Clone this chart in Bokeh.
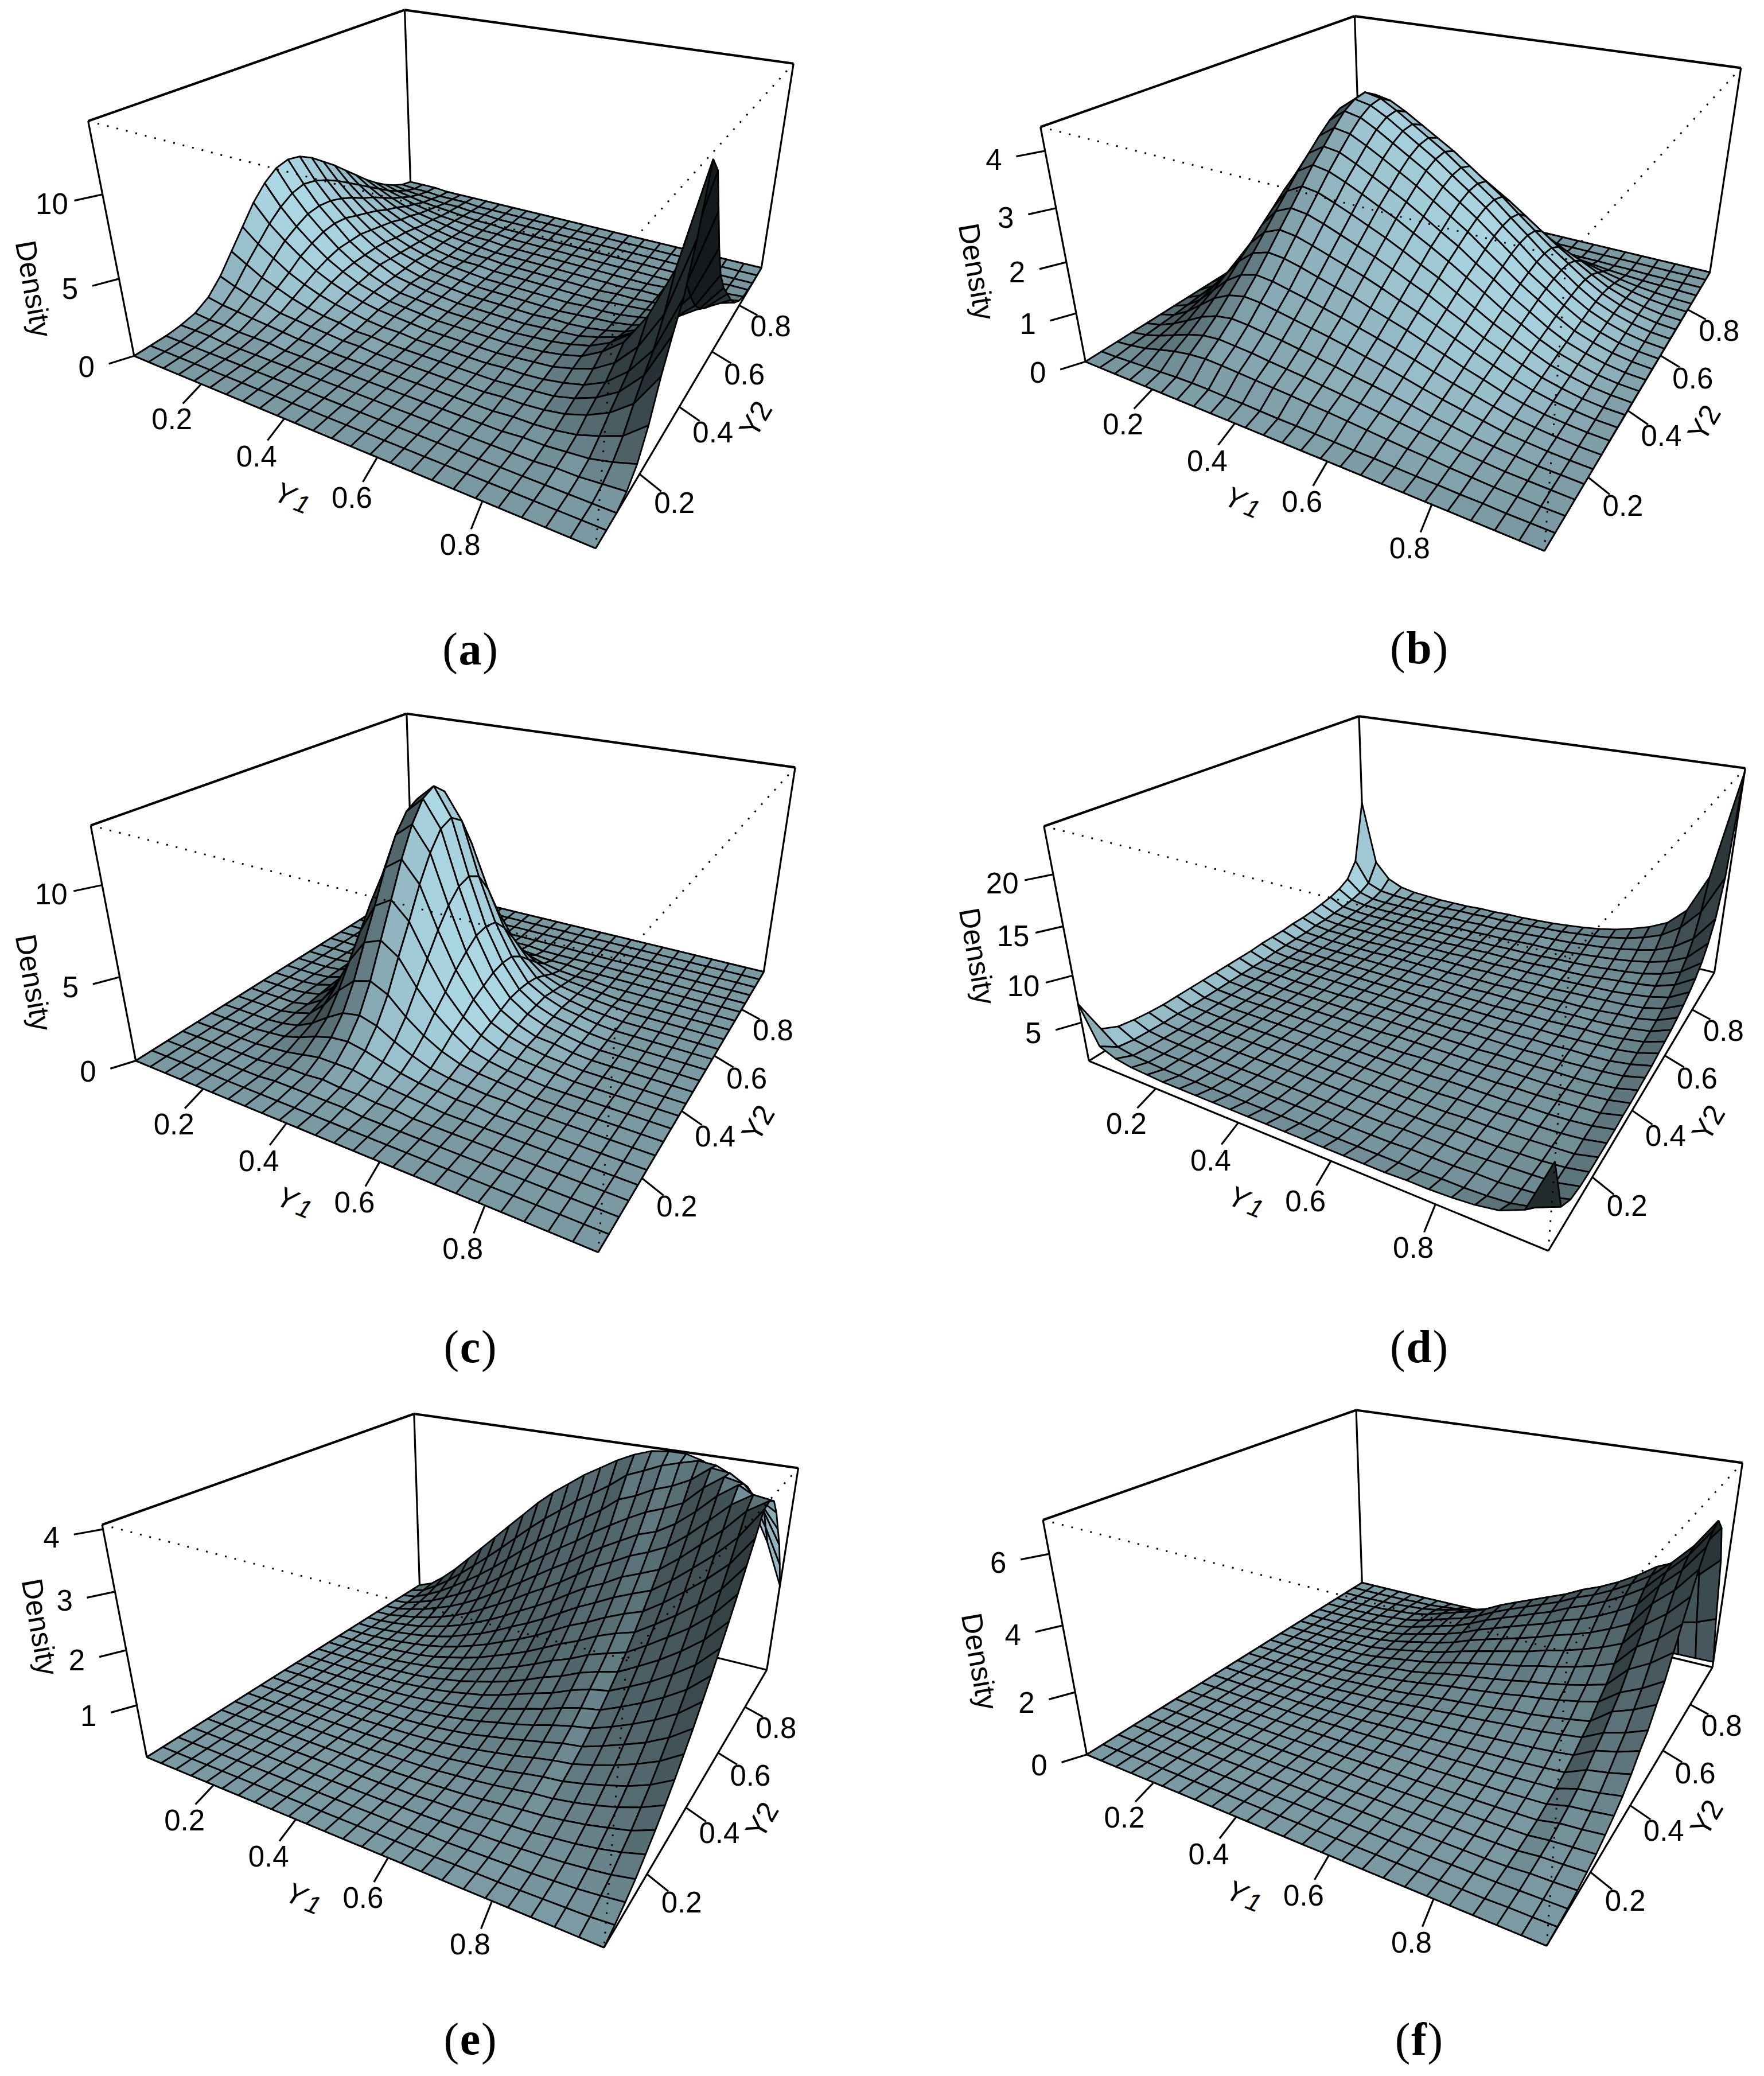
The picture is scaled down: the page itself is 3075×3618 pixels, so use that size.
import numpy as np
from bokeh.plotting import figure
from bokeh.layouts import column, row
from bokeh.models import Range1d
from bokeh.core.properties import value
from bokeh.embed import file_html
from bokeh.resources import INLINE

# ---------- values: rows are Y2, columns are Y1 ----------
Y_LO, Y_HI = 0.02, 0.99
Y_TICKS = [0.2, 0.4, 0.6, 0.8]
CAPTIONS = ["a", "b", "c", "d", "e", "f"]
Z_TICKS = [[0, 5, 10], [0, 1, 2, 3, 4], [0, 5, 10], [5, 10, 15, 20], [1, 2, 3, 4], [0, 2, 4, 6]]
Z_LIMS = [(0, 14), (0, 4.4), (0, 13), (0.7, 24.4), (0, 4.07), (0, 6.9)]
Z_DIV = [10, 100, 10, 10, 100, 100]

Z_A = [
[0,0,0,0,0,0,0,0,0,0,0,0,0,0,0,0,0,0,0,0,0,0,0,0,0],
[0,0,0,0,0,0,0,0,0,0,0,0,0,0,0,0,0,0,0,0,0,0,0,0,0],
[0,0,0,0,0,0,0,0,0,0,0,0,0,0,0,0,0,0,0,0,0,0,0,0,0],
[1,1,1,0,0,0,0,0,0,0,0,0,0,0,0,0,0,0,0,0,0,1,1,2,3],
[3,2,2,1,1,1,0,0,0,0,0,0,0,0,0,0,0,0,0,1,1,2,3,6,10],
[8,6,5,4,3,2,1,1,0,0,0,0,0,0,0,0,0,0,1,1,2,4,8,13,24],
[17,13,10,8,5,4,3,2,1,1,0,0,0,0,0,0,0,1,1,2,4,8,14,24,44],
[29,23,17,13,9,6,4,3,1,1,0,0,0,0,0,0,0,1,2,3,6,11,19,33,60],
[41,32,25,18,13,9,6,4,2,1,1,0,0,0,0,0,1,1,2,4,7,13,24,41,74],
[53,41,32,24,17,12,8,5,3,2,1,0,0,0,0,0,1,2,3,6,10,18,32,55,100],
[62,48,37,28,20,14,9,6,3,2,1,0,0,0,0,0,1,2,4,7,14,24,44,75,136],
[68,53,41,31,22,15,10,6,3,2,1,0,0,0,0,0,1,2,4,7,13,23,40,69,126],
[70,55,42,32,22,15,11,6,4,2,1,0,0,0,0,0,1,2,3,6,10,18,32,55,100],
[68,53,41,31,22,15,10,6,3,2,1,0,0,0,0,0,1,1,2,4,7,13,24,41,74],
[63,49,38,28,20,14,9,6,3,2,1,0,0,0,0,0,0,1,2,3,5,9,17,29,52],
[56,44,34,25,18,12,8,5,3,2,1,0,0,0,0,0,0,1,1,2,4,7,12,21,38],
[49,38,29,22,16,11,7,4,2,1,1,0,0,0,0,0,0,0,1,2,3,5,9,15,28],
[41,32,25,18,13,9,6,4,2,1,1,0,0,0,0,0,0,0,1,1,2,3,6,10,18],
[33,26,20,15,11,7,5,3,2,1,0,0,0,0,0,0,0,0,0,1,1,2,3,6,10],
[25,20,15,11,8,6,4,2,1,1,0,0,0,0,0,0,0,0,0,0,1,1,2,3,5],
[18,14,11,8,6,4,3,2,1,1,0,0,0,0,0,0,0,0,0,0,0,0,1,1,2],
[12,9,7,5,4,3,2,1,1,0,0,0,0,0,0,0,0,0,0,0,0,0,0,1,1],
[7,5,4,3,2,2,1,1,0,0,0,0,0,0,0,0,0,0,0,0,0,0,0,0,0],
[3,2,2,1,1,1,0,0,0,0,0,0,0,0,0,0,0,0,0,0,0,0,0,0,0],
[1,1,1,0,0,0,0,0,0,0,0,0,0,0,0,0,0,0,0,0,0,0,0,0,0],
]

Z_B = [
[0,0,0,0,0,0,0,0,0,0,0,0,0,0,0,0,0,0,0,0,0,0,0,0,0],
[0,1,3,5,7,9,10,10,9,9,8,7,7,6,5,4,4,3,2,2,1,1,0,0,0],
[0,4,10,19,28,34,37,36,34,32,30,28,25,23,20,17,14,11,9,6,4,2,1,0,0],
[0,6,16,29,42,52,56,54,52,48,45,42,38,34,30,26,21,17,13,9,6,3,2,1,0],
[0,8,22,40,59,72,78,76,72,68,63,58,53,47,42,36,30,23,18,12,8,5,2,1,0],
[0,10,29,54,79,96,104,102,96,90,84,78,71,63,56,48,39,31,24,17,10,6,3,1,0],
[0,13,36,67,98,120,130,127,120,113,105,97,88,79,70,60,49,39,30,21,13,8,4,1,0],
[0,16,45,83,121,148,159,156,148,138,129,120,108,97,86,73,61,48,37,25,16,9,5,2,1],
[0,19,53,98,143,175,189,185,175,164,153,142,129,115,102,87,72,57,43,30,19,11,6,2,1],
[0,22,61,113,166,203,218,214,203,190,177,164,149,133,118,100,83,65,50,35,22,13,6,2,1],
[0,25,70,129,188,230,248,243,230,216,201,186,169,151,134,114,94,74,57,40,25,15,7,3,1],
[0,28,78,144,211,258,278,272,258,242,225,209,189,170,150,128,106,83,64,44,28,17,8,3,1],
[0,30,85,157,230,282,303,298,282,264,246,228,207,185,164,139,116,91,70,48,30,18,9,3,1],
[0,33,93,171,250,306,329,323,306,287,267,247,224,201,178,151,125,99,76,53,33,20,10,4,1],
[0,35,99,182,267,327,352,345,327,306,285,264,239,215,190,162,134,105,81,56,35,21,10,4,1],
[0,37,103,190,278,341,366,359,341,319,297,275,249,224,198,168,140,110,84,58,37,22,11,4,1],
[0,37,104,192,281,344,370,363,344,322,300,278,252,226,200,170,141,111,85,59,37,22,11,4,1],
[0,36,100,184,270,330,355,348,330,309,288,267,242,217,192,163,135,107,82,57,36,21,11,4,1],
[0,31,87,161,236,289,311,305,289,270,252,234,212,190,168,143,118,93,71,50,31,18,9,3,1],
[0,23,66,121,177,217,233,229,217,203,189,175,159,142,126,107,89,70,54,37,23,14,7,3,1],
[0,14,38,71,104,127,137,134,127,119,111,103,93,84,74,63,52,41,31,22,14,8,4,1,0],
[0,5,15,27,39,48,52,51,48,45,42,39,35,32,28,24,20,16,12,8,5,3,2,1,0],
[0,1,2,4,6,7,7,7,7,6,6,6,5,5,4,3,3,2,2,1,1,0,0,0,0],
[0,0,0,0,0,0,0,0,0,0,0,0,0,0,0,0,0,0,0,0,0,0,0,0,0],
[0,0,0,0,0,0,0,0,0,0,0,0,0,0,0,0,0,0,0,0,0,0,0,0,0],
]

Z_C = [
[0,0,0,0,0,0,0,0,0,0,0,0,0,0,0,0,0,0,0,0,0,0,0,0,0],
[0,0,0,0,0,0,0,0,0,0,0,0,0,0,0,0,0,0,0,0,0,0,0,0,0],
[0,0,0,0,0,0,0,1,1,1,1,1,0,0,0,0,0,0,0,0,0,0,0,0,0],
[0,0,0,0,0,0,1,2,2,3,2,2,1,1,0,0,0,0,0,0,0,0,0,0,0],
[0,0,0,0,0,1,2,4,6,6,6,4,3,2,1,0,0,0,0,0,0,0,0,0,0],
[0,0,0,0,1,2,5,9,12,13,11,8,5,3,2,1,1,0,0,0,0,0,0,0,0],
[0,0,0,0,1,3,8,15,21,23,20,14,9,5,3,2,1,1,0,0,0,0,0,0,0],
[0,0,0,0,2,5,14,26,35,38,33,23,15,9,5,3,2,1,0,0,0,0,0,0,0],
[0,0,0,0,2,8,20,39,53,57,50,35,23,14,7,4,2,1,0,0,0,0,0,0,0],
[0,0,0,1,3,11,27,52,70,76,66,47,30,18,10,5,3,2,1,0,0,0,0,0,0],
[0,0,0,1,4,14,34,65,88,95,83,59,38,23,12,7,4,2,1,0,0,0,0,0,0],
[0,0,0,1,4,16,40,76,103,111,97,69,44,26,14,8,4,3,1,0,0,0,0,0,0],
[0,0,0,1,5,17,44,83,113,122,107,76,49,29,16,9,5,3,1,0,0,0,0,0,0],
[0,0,0,1,5,18,45,86,117,126,110,78,50,30,16,9,5,3,1,0,0,0,0,0,0],
[0,0,0,1,5,17,43,82,111,120,105,74,48,29,15,9,5,3,1,0,0,0,0,0,0],
[0,0,0,1,4,14,36,69,94,101,88,62,40,24,13,7,4,2,1,0,0,0,0,0,0],
[0,0,0,1,3,10,26,50,68,73,64,45,29,17,9,5,3,2,1,0,0,0,0,0,0],
[0,0,0,0,2,6,15,28,39,42,36,26,17,10,5,3,2,1,0,0,0,0,0,0,0],
[0,0,0,0,1,3,6,12,16,18,15,11,7,4,2,1,1,0,0,0,0,0,0,0,0],
[0,0,0,0,0,1,2,3,5,5,4,3,2,1,1,0,0,0,0,0,0,0,0,0,0],
[0,0,0,0,0,0,0,1,1,1,1,1,0,0,0,0,0,0,0,0,0,0,0,0,0],
[0,0,0,0,0,0,0,0,0,0,0,0,0,0,0,0,0,0,0,0,0,0,0,0,0],
[0,0,0,0,0,0,0,0,0,0,0,0,0,0,0,0,0,0,0,0,0,0,0,0,0],
[0,0,0,0,0,0,0,0,0,0,0,0,0,0,0,0,0,0,0,0,0,0,0,0,0],
[0,0,0,0,0,0,0,0,0,0,0,0,0,0,0,0,0,0,0,0,0,0,0,0,0],
]

Z_D = [
[70,30,23,20,19,18,18,18,18,18,18,18,18,18,18,18,18,18,19,19,20,22,26,36,88],
[32,18,15,14,13,13,13,13,13,13,13,13,13,13,13,13,13,13,13,14,14,15,17,22,32],
[24,15,13,12,12,12,11,11,11,11,11,11,11,11,11,11,11,12,12,12,13,13,15,17,23],
[21,14,12,11,11,10,10,10,10,10,10,10,10,10,10,10,11,11,11,11,12,13,14,15,20],
[19,13,11,11,10,10,10,10,10,10,10,10,10,10,10,10,10,10,11,11,11,12,13,15,19],
[18,13,11,10,10,10,10,10,10,10,10,10,10,10,10,10,10,10,11,11,11,12,13,14,19],
[18,12,11,10,10,10,10,10,10,10,10,10,10,10,10,10,10,11,11,11,12,12,13,15,19],
[18,12,11,10,10,10,10,10,10,10,10,10,10,10,10,10,11,11,11,11,12,12,13,15,19],
[18,12,11,10,10,10,10,10,10,10,10,10,10,10,11,11,11,11,11,12,12,13,14,15,20],
[18,12,11,10,10,10,10,10,10,10,10,10,11,11,11,11,11,11,12,12,12,13,14,16,20],
[18,12,11,11,10,10,10,10,10,10,11,11,11,11,11,11,11,12,12,12,13,13,14,16,21],
[18,12,11,11,10,10,10,10,11,11,11,11,11,11,11,12,12,12,12,13,13,14,15,17,22],
[18,12,11,11,11,11,11,11,11,11,11,11,11,11,12,12,12,12,13,13,14,14,15,18,23],
[19,13,11,11,11,11,11,11,11,11,11,11,11,12,12,12,12,13,13,13,14,15,16,19,25],
[19,13,11,11,11,11,11,11,11,11,11,12,12,12,12,12,13,13,13,14,15,15,17,20,27],
[19,13,12,11,11,11,11,11,11,12,12,12,12,12,13,13,13,14,14,15,15,16,18,21,29],
[20,13,12,11,11,11,11,12,12,12,12,12,13,13,13,14,14,14,15,15,16,18,19,23,32],
[20,14,12,12,11,11,12,12,12,12,13,13,13,14,14,14,15,15,16,17,18,19,21,26,36],
[21,14,12,12,12,12,12,12,13,13,13,14,14,14,15,15,16,16,17,18,19,21,24,29,41],
[23,15,13,12,12,12,12,13,13,13,14,14,15,15,15,16,17,17,18,20,22,24,27,34,47],
[25,16,14,13,13,13,13,13,14,14,14,15,15,16,16,17,18,19,20,22,24,27,32,40,56],
[29,18,15,14,14,14,14,14,14,15,15,16,16,17,18,18,19,21,23,25,28,32,38,48,70],
[36,21,16,15,15,15,15,15,16,16,17,17,18,19,20,21,22,24,26,29,33,38,47,62,90],
[55,27,20,18,17,17,17,17,18,18,19,19,20,21,22,23,25,27,30,34,40,48,62,86,130],
[130,50,30,22,19,18,17,17,17,18,18,19,19,20,21,23,25,28,32,38,45,55,75,120,240],
]

Z_E = [
[0,0,0,0,0,0,0,0,0,0,0,0,0,0,0,0,0,0,0,0,0,0,0,0,0],
[0,0,0,0,0,0,0,0,0,0,0,0,0,0,0,0,0,1,1,1,2,3,4,5,8],
[0,0,0,0,0,0,0,0,0,0,0,0,0,0,0,1,1,2,3,4,5,7,9,13,18],
[0,0,0,0,0,0,0,0,0,0,0,0,0,1,1,2,3,5,6,8,10,13,17,22,30],
[0,0,0,0,0,0,0,0,0,0,0,0,1,1,3,4,6,9,11,13,17,21,27,35,46],
[0,0,0,0,0,0,0,0,0,0,0,1,2,3,5,7,10,14,17,20,25,31,39,48,63],
[0,0,0,0,0,0,0,0,0,0,1,2,3,5,8,11,15,20,25,28,34,42,52,65,82],
[0,0,0,0,0,0,0,0,0,1,2,3,5,8,12,16,21,28,34,38,46,56,67,82,103],
[0,0,0,0,0,0,0,0,1,2,3,5,8,12,17,23,29,37,44,49,59,71,85,102,126],
[0,0,0,0,0,0,0,1,2,3,5,8,12,17,24,31,39,47,56,61,74,88,103,123,150],
[0,0,0,0,0,0,1,2,3,5,8,12,17,24,32,40,49,60,69,76,90,106,124,146,177],
[0,0,0,0,0,1,2,3,5,8,12,17,23,31,41,52,62,75,85,92,108,126,146,170,204],
[0,0,0,0,1,2,3,5,8,12,17,24,31,41,53,65,76,91,103,110,128,147,170,196,234],
[0,0,0,0,1,3,5,7,11,17,23,32,41,52,65,80,92,108,120,129,149,170,195,224,264],
[0,0,0,1,2,4,7,11,16,23,31,42,53,66,81,97,110,127,139,150,172,196,221,253,296],
[0,0,0,2,4,7,10,15,23,31,41,54,67,81,98,115,130,148,162,173,196,221,249,283,330],
[0,0,1,3,6,10,15,22,31,42,54,69,83,99,118,137,152,170,185,198,222,250,280,314,364],
[0,0,2,5,9,14,21,30,42,54,69,86,102,120,140,160,177,195,210,224,250,280,311,348,400],
[0,1,4,8,13,21,30,41,55,70,87,106,124,143,165,186,202,222,236,251,279,311,343,382,405],
[0,1,6,12,19,29,41,55,72,90,109,130,149,169,192,215,232,251,265,282,310,343,377,400,395],
[0,2,9,17,28,40,55,72,92,113,134,156,178,198,222,243,262,281,293,314,343,377,402,385,365],
[0,3,13,24,39,55,73,93,116,141,164,187,210,231,255,276,296,314,327,343,377,402,395,365,325],
[0,5,18,34,53,74,96,120,146,173,199,222,246,268,290,317,330,348,360,377,404,400,380,340,285],
[0,8,26,47,72,98,125,153,182,211,238,262,287,308,330,356,370,385,395,404,400,385,355,300,235],
[0,12,36,64,96,128,160,192,224,256,284,308,332,352,372,388,400,404,404,395,375,350,320,260,180],
]

Z_F = [
[0,0,0,0,0,0,0,0,0,0,0,0,0,0,0,0,0,0,0,0,0,0,0,0,0],
[0,0,0,0,0,0,0,0,0,0,0,0,0,0,0,0,0,0,0,0,0,0,2,2,3],
[0,0,0,0,0,0,0,0,0,0,0,1,1,1,1,1,1,1,1,2,2,2,4,5,6],
[0,0,0,0,0,0,0,0,0,1,1,1,1,2,2,2,2,3,3,3,3,4,9,10,12],
[0,0,0,0,0,0,0,1,1,1,2,2,3,3,4,4,5,5,6,6,7,8,15,17,20],
[0,0,0,0,0,0,1,1,2,2,3,4,5,5,6,7,8,9,10,11,12,13,21,25,29],
[0,0,0,0,0,1,1,1,2,3,4,5,7,8,9,10,11,13,14,15,17,19,32,37,44],
[0,0,0,0,0,1,1,2,3,5,6,8,10,12,14,15,17,19,21,23,26,29,45,52,61],
[0,0,0,0,1,1,2,3,5,7,9,11,14,16,19,21,24,27,29,32,36,40,60,69,81],
[0,0,0,0,1,2,2,4,6,9,11,15,19,22,25,28,32,36,39,43,48,54,82,94,110],
[0,0,0,1,1,2,3,6,9,12,15,20,25,30,34,39,43,48,53,58,65,73,107,123,145],
[0,0,0,1,2,3,4,7,12,16,20,26,33,39,45,51,57,64,70,77,86,96,129,148,174],
[0,0,0,1,2,4,5,9,14,19,24,31,40,47,54,61,68,77,83,92,103,115,163,187,220],
[0,0,0,1,2,5,6,11,17,24,31,40,51,60,68,77,86,97,106,117,130,146,193,222,261],
[0,0,0,1,3,5,8,13,21,29,36,47,60,71,81,91,102,115,125,138,154,172,236,271,319],
[0,0,1,2,3,7,9,16,25,35,45,57,73,86,99,112,124,140,153,169,188,211,279,320,377],
[0,0,1,2,4,8,11,19,30,42,53,68,86,102,117,132,147,166,181,200,222,249,322,370,435],
[0,0,1,2,5,9,13,22,35,48,61,78,100,118,135,152,170,191,209,230,257,287,365,419,493],
[0,0,1,3,5,10,14,25,39,54,69,88,113,133,153,173,192,217,236,261,291,326,399,458,539],
[0,0,1,3,6,11,16,27,43,60,75,97,124,146,167,189,210,237,259,286,318,356,420,483,568],
[0,0,1,3,6,12,17,28,45,63,79,102,130,154,176,199,221,250,272,301,335,375,429,493,580],
[0,0,1,3,6,12,17,29,46,64,81,104,133,157,180,203,226,255,278,307,342,383,410,460,540],
[0,0,1,2,5,10,14,23,37,51,65,83,106,126,144,162,181,204,222,246,274,306,330,360,420],
[0,0,0,1,2,5,6,11,17,24,31,40,51,60,68,77,86,97,106,117,130,146,160,175,200],
[0,0,0,0,0,0,1,1,2,3,3,4,5,6,7,8,9,10,11,12,14,15,17,18,20],
]
SURFACES = [Z_A, Z_B, Z_C, Z_D, Z_E, Z_F]

# ---------- layout: camera calibration from the box corners, page pixels ----------
# order: BL, BF, BR, BB, TL, TF, TR, TB
CORNERS = [
 [(233.4,620),(1038.4,954.7),(1326.9,465.6),(714.7,319),(153.4,209),(1077,448),(1382.8,110),(705.3,17)],
 [(1892,630),(2692.5,960),(2980,473),(2370.7,329.4),(1813.4,220),(2728,449.6),(3034.9,118.6),(2361.2,27.4)],
 [(236,1848.2),(1042.8,2181),(1331,1693.2),(718,1545.6),(157.7,1436.8),(1080.7,1674.6),(1385.4,1336),(708.7,1243.6)],
 [(1898,1848.2),(2698.4,2179.8),(2988.4,1693.2),(2378.2,1549.4),(1819.3,1438.8),(2735.8,1669.4),(3041.6,1338.6),(2368.8,1247.4)],
 [(255,3061.8),(1051.4,3392),(1337,2910.7),(731,2762),(177.5,2655.6),(1093.6,2895),(1389.7,2556),(721.6,2464.2)],
 [(1893.7,3057.3),(2696.8,3390.3),(2984.1,2905.6),(2373.8,2757.6),(1817.6,2648.5),(2730.7,2879),(3037.4,2548.4),(2363.7,2457.2)],
]
CUBE = [(0,0,0),(1,0,0),(1,1,0),(0,1,0),(0,0,1),(1,0,1),(1,1,1),(0,1,1)]
DENSITY_XY = [(58,503),(1702,473),(58,1712),(1703,1666),(69,2835),(1707,2895)]
CAPTION_XY = [(819,1137),(2473,1135),(819,2353),(2473,2353),(819,3560),(2473,3560)]
LETTER_EM = {"a":.5,"b":.556,"c":.444,"d":.556,"e":.444,"f":.333}
W, H = 1529, 1201
SANS = value("Liberation Sans")
SERIF = value("Liberation Serif")
LIGHT = np.array([0.88, -0.20, 0.42])
BASE = np.array([173, 216, 230])


def fit_camera(img):
    rows = []
    for (u, v, w), (x, y) in zip(CUBE, img):
        X = [u, v, w, 1]
        rows.append(X + [0, 0, 0, 0] + [-x * c for c in X])
        rows.append([0, 0, 0, 0] + X + [-y * c for c in X])
    return np.linalg.svd(np.array(rows, float))[2][-1].reshape(3, 4)


def make_panel(k, col, rw):
    left, top = col * W, rw * H
    p = figure(width=W, height=H, x_range=Range1d(left, left + W), y_range=Range1d(top + H, top),
               output_backend="svg", toolbar_location=None, x_axis_type=None, y_axis_type=None,
               min_border=0, outline_line_color=None)
    P = fit_camera(CORNERS[k])

    def proj(u, v, w):
        q = P @ np.array([u, v, w, 1.0])
        return q[0] / q[2], q[1] / q[2]

    def seg(a, b, width, dash="solid"):
        pa, pb = proj(*a), proj(*b)
        p.line([pa[0], pb[0]], [pa[1], pb[1]], line_color="black", line_width=width,
               line_dash=dash, line_cap="butt")

    bl, bf, br, bb, tl, tf, tr, tb = CUBE
    for a, b in [(bl, bb), (bb, br), (bb, tb), (bl, bf), (bf, br), (bl, tl), (br, tr)]:
        seg(a, b, 3.2)
    for a, b in [(tl, tb), (tb, tr)]:
        seg(a, b, 4.2)

    # surface, painted from the far Y2 row to the near one
    zlo, zhi = Z_LIMS[k]
    Z = np.array(SURFACES[k], float) / Z_DIV[k]
    W3 = (Z - zlo) / (zhi - zlo)
    n = Z.shape[0]
    U = np.arange(n) / (n - 1)
    xs, ys, cols = [], [], []
    for j in range(n - 2, -1, -1):
        for i in range(n - 1):
            c = [(i, j), (i + 1, j), (i + 1, j + 1), (i, j + 1)]
            pts = [proj(U[a], U[b], W3[b, a]) for a, b in c]
            xs.append([q[0] for q in pts])
            ys.append([q[1] for q in pts])
            d1 = np.array([2 * (U[i + 1] - U[i]), 2 * (U[j + 1] - U[j]), 1.6 * (W3[j + 1, i + 1] - W3[j, i])])
            d2 = np.array([-2 * (U[i + 1] - U[i]), 2 * (U[j + 1] - U[j]), 1.6 * (W3[j + 1, i] - W3[j, i + 1])])
            nv = np.cross(d1, d2)
            nv = nv / np.linalg.norm(nv)
            f = np.clip((1 + nv @ LIGHT) / 2, 0.12, 1)
            r, g, b = (BASE * f).astype(int)
            cols.append(f"#{r:02x}{g:02x}{b:02x}")
    p.patches(xs, ys, fill_color=cols, line_color="black", line_width=2.8, line_join="bevel")

    for a, b in [(tl, tf), (tr, tf), (tf, bf)]:
        seg(a, b, 3, "3 14")

    def label(x, y, txt, size="51px", angle=0.0, style="normal", font=SANS, align="center", base="middle"):
        p.text([x], [y], text=[txt], text_font=font, text_font_size=size, text_font_style=style,
               angle=angle, angle_units="deg", text_align=align, text_baseline=base, text_color="black")

    # ticks and axis titles
    for t in Y_TICKS:
        u = (t - Y_LO) / (Y_HI - Y_LO)
        a, b = proj(u, 0, 0), proj(u + 0.0145, -0.061, 0)
        p.line([a[0], b[0]], [a[1], b[1]], line_color="black", line_width=3.2)
        label(b[0] - 19, b[1] + 27, f"{t:.1f}")
        a, b = proj(1, u, 0), proj(1.045, u - 0.021, 0)
        p.line([a[0], b[0]], [a[1], b[1]], line_color="black", line_width=3.2)
        label(b[0] + 23, b[1] + 19, f"{t:.1f}")
    for t in Z_TICKS[k]:
        w = (t - zlo) / (zhi - zlo)
        a, b = proj(0, 0, w), proj(-0.022, -0.044, w)
        p.line([a[0], b[0]], [a[1], b[1]], line_color="black", line_width=3.2)
        label(b[0] - 39, b[1] + 5, str(t))

    m = proj(0.5, 0, 0)
    label(m[0] - 82, m[1] + 97, "Y", style="italic", angle=-22)
    label(m[0] - 52, m[1] + 114, "1", size="44px", style="italic", angle=-22)
    m = proj(1, 0.5, 0)
    label(m[0] + 102, m[1] + 74, "Y2", angle=60)
    dx, dy = DENSITY_XY[k]
    label(dx, dy, "Density", angle=-80)

    # caption
    cx, cy = CAPTION_XY[k]
    ch = CAPTIONS[k]
    off = LETTER_EM[ch] * 40 + 15
    label(cx - off, cy - 7, "(", size="80px", font=SERIF, base="alphabetic")
    label(cx, cy - 7, ch, size="80px", font=SERIF, style="bold", base="alphabetic")
    label(cx + off, cy - 7, ")", size="80px", font=SERIF, base="alphabetic")
    return p


rows = [row(*[make_panel(2 * r + c, c, r) for c in range(2)], spacing=0) for r in range(3)]
page = column(*rows, spacing=0)
open("out.html", "w").write(file_html(page, INLINE))
